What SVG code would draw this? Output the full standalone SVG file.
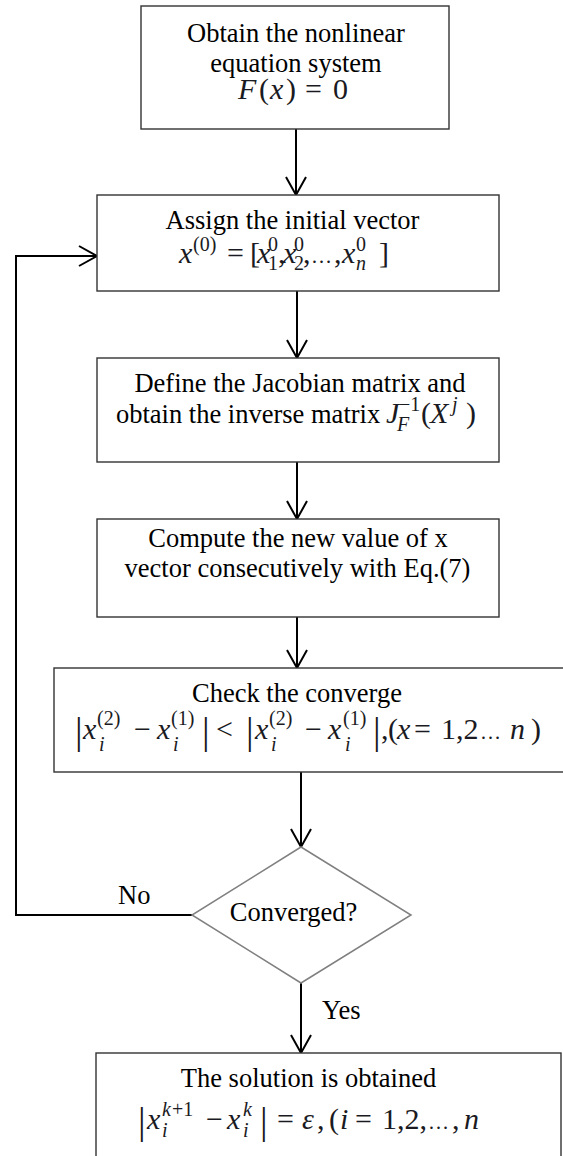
<svg xmlns="http://www.w3.org/2000/svg" width="563" height="1156" viewBox="0 0 563 1156">
<style>
.box{fill:#fff;stroke:#333;stroke-width:1.4}
.dia{fill:#fff;stroke:#808080;stroke-width:1.5}
.t{font-family:"Liberation Serif","Times New Roman",serif;font-size:26.5px;fill:#000}
.m{font-family:"Liberation Serif","Times New Roman",serif;font-size:30px;fill:#1a1a22}
.i{font-style:italic}
.s{font-size:20px}
.el{font-size:21px}
.bar{font-size:38px}
.c{text-anchor:middle}
.ln{fill:none;stroke:#000;stroke-width:2}
</style>
<defs>
<marker id="ah" markerUnits="userSpaceOnUse" markerWidth="26" markerHeight="26" viewBox="-22 -13 26 26" refX="0" refY="0" orient="auto">
<path d="M-18,-10 L0,0 L-18,10" fill="none" stroke="#000" stroke-width="2"/>
</marker>
</defs>

<g id="connectors">
<line class="ln" x1="296" y1="129" x2="296" y2="195" marker-end="url(#ah)"/>
<line class="ln" x1="297" y1="291" x2="297" y2="358" marker-end="url(#ah)"/>
<line class="ln" x1="297" y1="462" x2="297" y2="519" marker-end="url(#ah)"/>
<line class="ln" x1="297" y1="617" x2="297" y2="668" marker-end="url(#ah)"/>
<line class="ln" x1="301" y1="772" x2="301" y2="847" marker-end="url(#ah)"/>
<line class="ln" x1="301" y1="983" x2="301" y2="1053" marker-end="url(#ah)"/>
<polyline class="ln" points="192,915 16,915 16,256 97,256" marker-end="url(#ah)"/>
<text class="t" x="118" y="904">No</text>
<text class="t" x="322" y="1019">Yes</text>
</g>

<g id="n1">
<rect class="box" x="141" y="6" width="308" height="123"/>
<text class="t c" x="296" y="42">Obtain the nonlinear</text>
<text class="t c" x="296" y="72">equation system</text>
<text class="m" y="99"><tspan class="i" x="238">F</tspan><tspan x="259">(</tspan><tspan class="i" x="270">x</tspan><tspan x="286">)</tspan><tspan x="305">=</tspan><tspan x="333">0</tspan></text>
</g>

<g id="n2">
<rect class="box" x="97" y="195" width="402" height="96"/>
<text class="t c" x="292.5" y="229">Assign the initial vector</text>
<text class="m"><tspan class="i" x="179" y="263">x</tspan><tspan class="s" x="193" y="251">(0)</tspan><tspan x="227" y="263">=</tspan><tspan x="250" y="263">[</tspan><tspan class="i" x="257" y="263">x</tspan><tspan class="s" x="268" y="251">0</tspan><tspan class="s" x="268" y="270">1</tspan><tspan x="278" y="263">,</tspan><tspan class="i" x="283" y="263">x</tspan><tspan class="s" x="294" y="251">0</tspan><tspan class="s" x="294" y="270">2</tspan><tspan x="303" y="263">,</tspan><tspan class="el" x="311" y="263">…</tspan><tspan x="334" y="263">,</tspan><tspan class="i" x="342" y="263">x</tspan><tspan class="s" x="356" y="251">0</tspan><tspan class="s i" x="356" y="270">n</tspan><tspan x="379" y="263">]</tspan></text>
</g>

<g id="n3">
<rect class="box" x="97" y="358" width="402" height="104"/>
<text class="t c" x="300" y="392">Define the Jacobian matrix and</text>
<text class="t" x="116" y="423">obtain the inverse matrix</text>
<text class="m"><tspan class="i" x="386" y="423">J</tspan><tspan class="s" x="399" y="411">−1</tspan><tspan class="s i" x="397" y="431">F</tspan><tspan x="421" y="423">(</tspan><tspan class="i" x="430" y="423">X</tspan><tspan class="s i" x="452" y="411">j</tspan><tspan x="466" y="423">)</tspan></text>
</g>

<g id="n4">
<rect class="box" x="97" y="519" width="402" height="98"/>
<text class="t c" x="298" y="547">Compute the new value of x</text>
<text class="t c" x="297.5" y="577">vector consecutively with Eq.(7)</text>
</g>

<g id="n5">
<rect class="box" x="54" y="668" width="512" height="104"/>
<text class="t c" x="297" y="702">Check the converge</text>
<text class="m"><tspan class="bar" x="75" y="744">|</tspan><tspan class="i" x="83" y="739">x</tspan><tspan class="s" x="97" y="725">(2)</tspan><tspan class="s i" x="99" y="751">i</tspan><tspan x="134" y="739">−</tspan><tspan class="i" x="157" y="739">x</tspan><tspan class="s" x="171" y="725">(1)</tspan><tspan class="s i" x="173" y="751">i</tspan><tspan class="bar" x="202" y="744">|</tspan><tspan x="216" y="739">&lt;</tspan><tspan class="bar" x="246" y="744">|</tspan><tspan class="i" x="255" y="739">x</tspan><tspan class="s" x="269" y="725">(2)</tspan><tspan class="s i" x="271" y="751">i</tspan><tspan x="305" y="739">−</tspan><tspan class="i" x="328" y="739">x</tspan><tspan class="s" x="343" y="725">(1)</tspan><tspan class="s i" x="345" y="751">i</tspan><tspan class="bar" x="373" y="744">|</tspan><tspan x="381" y="739">,</tspan><tspan x="388" y="739">(</tspan><tspan class="i" x="397" y="739">x</tspan><tspan x="414" y="739">=</tspan><tspan x="441" y="739">1,2</tspan><tspan class="el" x="480" y="739">…</tspan><tspan class="i" x="510" y="739">n</tspan><tspan x="531" y="739">)</tspan></text>
</g>

<g id="n6">
<path class="dia" d="M301,847 L411,915 L301,983 L192,915 Z"/>
<text class="t c" x="293.5" y="921">Converged?</text>
</g>

<g id="n7">
<rect class="box" x="96" y="1053" width="465" height="110"/>
<text class="t c" x="308.5" y="1087">The solution is obtained</text>
<text class="m"><tspan class="bar" x="138" y="1134">|</tspan><tspan class="i" x="147" y="1129">x</tspan><tspan class="s i" x="162" y="1116">k</tspan><tspan class="s" x="172" y="1116">+1</tspan><tspan class="s i" x="162" y="1137">i</tspan><tspan x="206" y="1129">−</tspan><tspan class="i" x="227" y="1129">x</tspan><tspan class="s i" x="243" y="1116">k</tspan><tspan class="s i" x="243" y="1137">i</tspan><tspan class="bar" x="260" y="1134">|</tspan><tspan x="277" y="1129">=</tspan><tspan class="i" x="302" y="1129">ε</tspan><tspan x="317" y="1129">,</tspan><tspan x="329" y="1129">(</tspan><tspan class="i" x="340" y="1129">i</tspan><tspan x="355" y="1129">=</tspan><tspan x="382" y="1129">1,2,</tspan><tspan class="el" x="428" y="1129">…</tspan><tspan x="452" y="1129">,</tspan><tspan class="i" x="464" y="1129">n</tspan></text>
</g>
</svg>
